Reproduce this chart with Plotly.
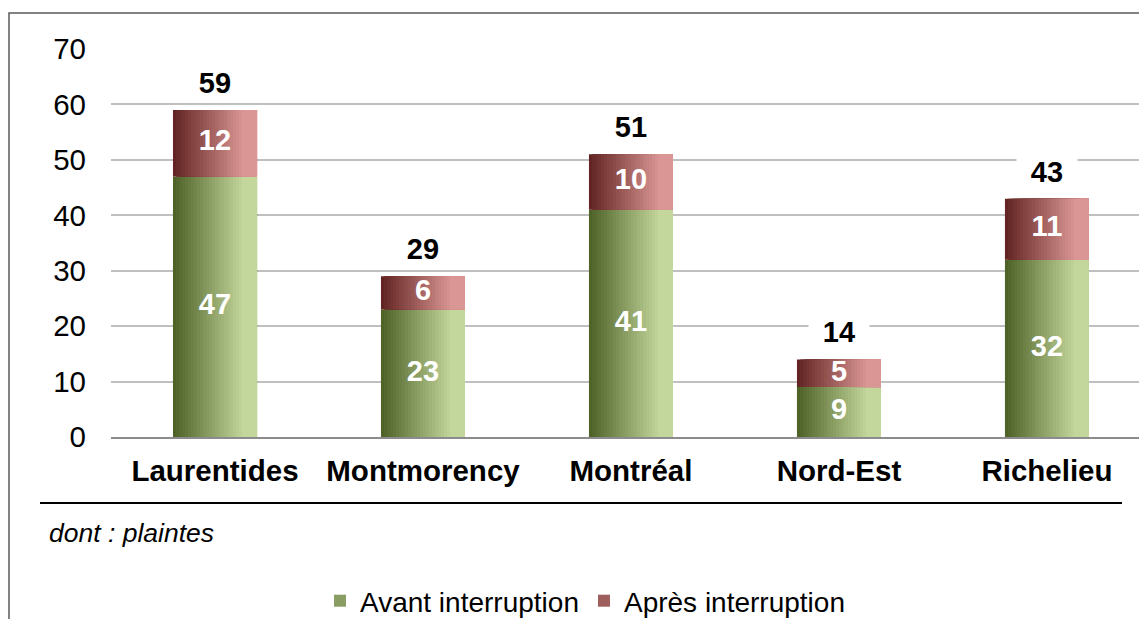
import plotly.graph_objects as go

categories = ["Laurentides", "Montmorency", "Montréal", "Nord-Est", "Richelieu"]
avant = [47, 23, 41, 9, 32]
apres = [12, 6, 10, 5, 11]
totals = [a + b for a, b in zip(avant, apres)]
series_names = ["Avant interruption", "Après interruption"]
y_ticks = [0, 10, 20, 30, 40, 50, 60, 70]

FONT = "Liberation Sans, Arial, sans-serif"
GREEN = ((79, 98, 40), (195, 214, 155))
RED = ((99, 37, 35), (217, 150, 148))

BAR_W = 0.404
N = 28
step = BAR_W / N


def mix(c0, c1, t):
    return "rgb(%d,%d,%d)" % tuple(round(a + (b - a) * t) for a, b in zip(c0, c1))


fig = go.Figure()

for values, bases, cols in [(avant, [0] * len(avant), GREEN), (apres, avant, RED)]:
    for i in range(N):
        t = min(1.0, (i / (N - 1)) / 0.85)
        fig.add_trace(go.Bar(
            x=categories, y=values, base=bases,
            width=BAR_W - i * step, offset=-BAR_W / 2 + i * step,
            marker=dict(color=mix(cols[0], cols[1], t), line=dict(width=0)),
            showlegend=False, hoverinfo="skip",
        ))

# legend entries
for name, cols in zip(series_names, [GREEN, RED]):
    fig.add_trace(go.Bar(
        x=[None], y=[None], name=name,
        marker=dict(color=mix(cols[0], cols[1], 0.5), line=dict(width=0)),
        showlegend=True,
    ))

# inner value labels
fig.add_trace(go.Scatter(
    x=categories + categories,
    y=[v / 2 for v in avant] + [a + v / 2 for a, v in zip(avant, apres)],
    text=[str(v) for v in avant] + [str(v) for v in apres],
    mode="text", textposition="middle center",
    textfont=dict(family=FONT, size=29, color="white", weight="bold"),
    showlegend=False, hoverinfo="skip",
))

for c, tot in zip(categories, totals):
    fig.add_annotation(
        x=c, y=tot, text="<b>%d</b>" % tot, showarrow=False,
        yanchor="middle", yshift=27, bgcolor="white",
        width=58, height=34,
        font=dict(family=FONT, size=29, color="black"),
    )

fig.add_annotation(
    xref="paper", yref="paper", x=(47 - 111) / 1036, y=(437 - 533) / 388,
    xanchor="left", yanchor="middle", text="<i>dont : plaintes</i>",
    showarrow=False, font=dict(family=FONT, size=26.5, color="black"),
)

# separator line under the category labels
fig.add_shape(type="line", xref="paper", yref="paper",
              x0=(40 - 111) / 1036, x1=(1122 - 111) / 1036,
              y0=(437 - 503) / 388, y1=(437 - 503) / 388,
              line=dict(color="black", width=2))
# outer frame
fig.add_shape(type="rect", xref="paper", yref="paper",
              x0=(9 - 111) / 1036, x1=(1160 - 111) / 1036,
              y0=(437 - 640) / 388, y1=(437 - 13) / 388,
              line=dict(color="#595959", width=1.5), fillcolor="rgba(0,0,0,0)",
              layer="below")

fig.update_layout(
    width=1139, height=611,
    margin=dict(l=103, r=0, t=41, b=182, autoexpand=False),
    barmode="overlay",
    plot_bgcolor="white", paper_bgcolor="white",
    font=dict(family=FONT, color="black"),
    showlegend=True,
    legend=dict(orientation="h", x=(585 - 111) / 1036, xanchor="center",
                y=(437 - 601) / 388, yanchor="middle",
                font=dict(family=FONT, size=28, color="black"),
                traceorder="normal", itemwidth=30),
    xaxis=dict(type="category", range=[-0.5, 4.481], showgrid=False,
               showline=True, linecolor="#8c8c8c", linewidth=1.5,
               ticks="", tickfont=dict(family=FONT, size=29.5, color="black", weight="bold"),
               ticklabelstandoff=7, fixedrange=True),
    yaxis=dict(range=[0, 70], tickvals=y_ticks, showgrid=True,
               gridcolor="#c0c0c0", gridwidth=1.5, zeroline=False,
               showline=False, ticks="", ticklabelstandoff=24,
               tickfont=dict(family=FONT, size=29.5, color="black"), fixedrange=True),
)

fig.write_html("out.html")
